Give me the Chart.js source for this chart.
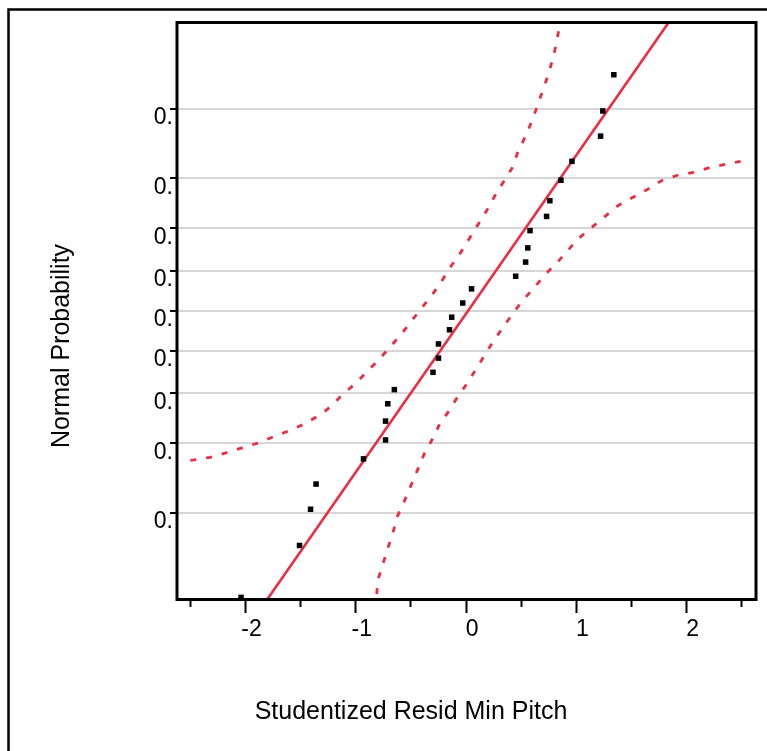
<!DOCTYPE html>
<html>
<head>
<meta charset="utf-8">
<script src="https://cdn.jsdelivr.net/npm/chart.js@4.4.1/dist/chart.umd.min.js"></script>
<style>
html,body{margin:0;padding:0;background:#fff;overflow:hidden}
#wrap{position:absolute;left:0;top:0;width:767px;height:751px}
</style>
</head>
<body>
<div id="wrap"><canvas id="c" width="767" height="751"></canvas></div>
<script>
// ---- data ----
const residuals = [-2.04, -1.51, -1.41, -1.36, -0.93, -0.73, -0.73, -0.71, -0.65, -0.30, -0.25, -0.25, -0.15, -0.13,
                   -0.03, 0.05, 0.45, 0.54, 0.56, 0.58, 0.73, 0.76, 0.86, 0.96, 1.22, 1.24, 1.34];
const normalQuantiles = [-1.82, -1.49, -1.26, -1.10, -0.94, -0.82, -0.70, -0.59, -0.50, -0.39, -0.30, -0.21, -0.12, -0.04,
                         0.05, 0.14, 0.22, 0.31, 0.40, 0.51, 0.60, 0.70, 0.83, 0.95, 1.11, 1.27, 1.50];

const fitLineX = [-1.80, 1.84];
const fitLineZ = [-1.83, 1.835];

const upperBandX = [-2.50, -2.32, -2.17, -2.03, -1.89, -1.75, -1.60, -1.47, -1.30, -1.20, -1.12, -1.00, -0.89, -0.79, -0.69,
                    -0.59, -0.49, -0.40, -0.30, -0.22, -0.14, -0.05, 0.03, 0.11, 0.19, 0.26, 0.34, 0.42, 0.47, 0.54,
                    0.60, 0.65, 0.70, 0.75, 0.79, 0.82, 0.85, 0.86];
const upperBandZ = [-0.95, -0.93, -0.90, -0.87, -0.84, -0.80, -0.76, -0.72, -0.65, -0.59, -0.53, -0.46, -0.38, -0.31, -0.23,
                    -0.15, -0.06, 0.02, 0.11, 0.19, 0.28, 0.37, 0.46, 0.55, 0.64, 0.73, 0.82, 0.91, 1.01, 1.11,
                    1.21, 1.31, 1.41, 1.51, 1.61, 1.70, 1.82, 1.90];

const lowerBandX = [-0.81, -0.81, -0.80, -0.75, -0.71, -0.66, -0.62, -0.56, -0.50, -0.44, -0.38, -0.31, -0.24, -0.16,
                    -0.08, 0.01, 0.09, 0.17, 0.25, 0.34, 0.43, 0.52, 0.62, 0.73, 0.83, 0.93, 1.02, 1.14, 1.26,
                    1.38, 1.51, 1.64, 1.78, 1.91, 2.06, 2.21, 2.35, 2.49];
const lowerBandZ = [-1.90, -1.80, -1.71, -1.60, -1.51, -1.40, -1.30, -1.21, -1.11, -1.01, -0.91, -0.82, -0.72, -0.64,
                    -0.55, -0.46, -0.37, -0.28, -0.19, -0.10, -0.01, 0.07, 0.15, 0.24, 0.31, 0.39, 0.46, 0.53, 0.60,
                    0.67, 0.72, 0.77, 0.83, 0.86, 0.88, 0.91, 0.93, 0.95];

const xMajorTicks = [-2, -1, 0, 1, 2];
const xMinorTicks = [-2.5, -1.5, -0.5, 0.5, 1.5, 2.5];
const probLevels = [0.1, 0.2, 0.3, 0.4, 0.5, 0.6, 0.7, 0.8, 0.9];
const probQuantiles = [-1.2816, -0.8416, -0.5244, -0.2533, 0, 0.2533, 0.5244, 0.8416, 1.2816];
const yTickLabels = ['0.', '0.', '0.', '0.', '0.', '0.', '0.', '0.', '0.'];
const xTitle = 'Studentized Resid Min Pitch';
const yTitle = 'Normal Probability';

// ---- styling ----
const RED = '#ec2c44';
const FONT = 'Liberation Sans, Arial, Helvetica, sans-serif';

const toXY = (xs, ys) => xs.map((x, i) => ({x: x, y: ys[i]}));

const framePlugin = {
  id: 'frames',
  afterDraw(chart) {
    const ctx = chart.ctx;
    const a = chart.chartArea;
    ctx.save();
    // outer frame (right and bottom edges lie outside the picture)
    ctx.strokeStyle = '#000';
    ctx.lineWidth = 2.5;
    ctx.strokeRect(8.5, 9.5, 900, 900);
    // plot frame
    ctx.lineWidth = 3;
    ctx.strokeRect(a.left + 1, a.top + 0.5, a.right - a.left, a.bottom - a.top);
    // axis titles
    ctx.fillStyle = '#000';
    ctx.font = '25px ' + FONT;
    ctx.textAlign = 'center';
    ctx.textBaseline = 'middle';
    ctx.fillText(xTitle, 411, 712);
    ctx.translate(62, 346);
    ctx.rotate(-Math.PI / 2);
    ctx.fillText(yTitle, 0, 0);
    ctx.restore();
  }
};

new Chart(document.getElementById('c'), {
  type: 'scatter',
  data: {
    datasets: [
      {
        label: 'Residuals',
        data: toXY(residuals, normalQuantiles),
        pointStyle: 'rect',
        pointRadius: 3.9,
        pointBorderWidth: 0,
        backgroundColor: '#000',
        borderColor: '#000'
      },
      {
        label: 'Fit',
        data: toXY(fitLineX, fitLineZ),
        showLine: true,
        pointRadius: 0,
        borderColor: RED,
        borderWidth: 2.6,
        tension: 0
      },
      {
        label: 'Upper band',
        data: toXY(upperBandX, upperBandZ),
        showLine: true,
        pointRadius: 0,
        borderColor: RED,
        borderWidth: 2.8,
        borderDash: [6, 10],
        tension: 0
      },
      {
        label: 'Lower band',
        data: toXY(lowerBandX, lowerBandZ),
        showLine: true,
        pointRadius: 0,
        borderColor: RED,
        borderWidth: 2.8,
        borderDash: [6, 10],
        tension: 0
      }
    ]
  },
  options: {
    responsive: false,
    animation: false,
    devicePixelRatio: 1,
    layout: {padding: {left: 0, top: 22, right: 12, bottom: 0}},
    plugins: {legend: {display: false}, tooltip: {enabled: false}},
    scales: {
      x: {
        type: 'linear',
        position: 'bottom',
        weight: 1,
        min: -2.63,
        max: 2.62,
        afterBuildTicks: s => { s.ticks = xMajorTicks.map(v => ({value: v})); },
        afterFit: s => { s.height = 152; },
        border: {display: false},
        grid: {drawOnChartArea: false, drawTicks: true, tickLength: 14, tickWidth: 2, tickColor: '#000'},
        ticks: {
          color: '#000',
          font: {family: FONT, size: 23},
          padding: 3,
          maxRotation: 0,
          labelOffset: ctx => (ctx.tick && ctx.tick.value < 0 ? 13 : 6),
          callback: v => String(v)
        }
      },
      xMinor: {
        type: 'linear',
        position: 'bottom',
        weight: 0,
        min: -2.63,
        max: 2.62,
        afterBuildTicks: s => { s.ticks = xMinorTicks.map(v => ({value: v})); },
        afterFit: s => { s.height = 0; },
        border: {display: false},
        grid: {drawOnChartArea: false, drawTicks: true, tickLength: 8, tickWidth: 2, tickColor: '#000'},
        ticks: {display: false}
      },
      y: {
        type: 'linear',
        position: 'left',
        min: -1.83,
        max: 1.835,
        afterBuildTicks: s => { s.ticks = probQuantiles.map(v => ({value: v})); },
        afterFit: s => { s.width = 176; },
        border: {display: false},
        grid: {color: '#d6d6d6', lineWidth: 2, drawTicks: true, tickLength: 6, tickWidth: 2, tickColor: '#000'},
        ticks: {
          color: '#000',
          font: {family: FONT, size: 23},
          padding: -3,
          labelOffset: 9,
          callback: (v, i) => yTickLabels[i]
        }
      }
    }
  },
  plugins: [framePlugin]
});
</script>
</body>
</html>
